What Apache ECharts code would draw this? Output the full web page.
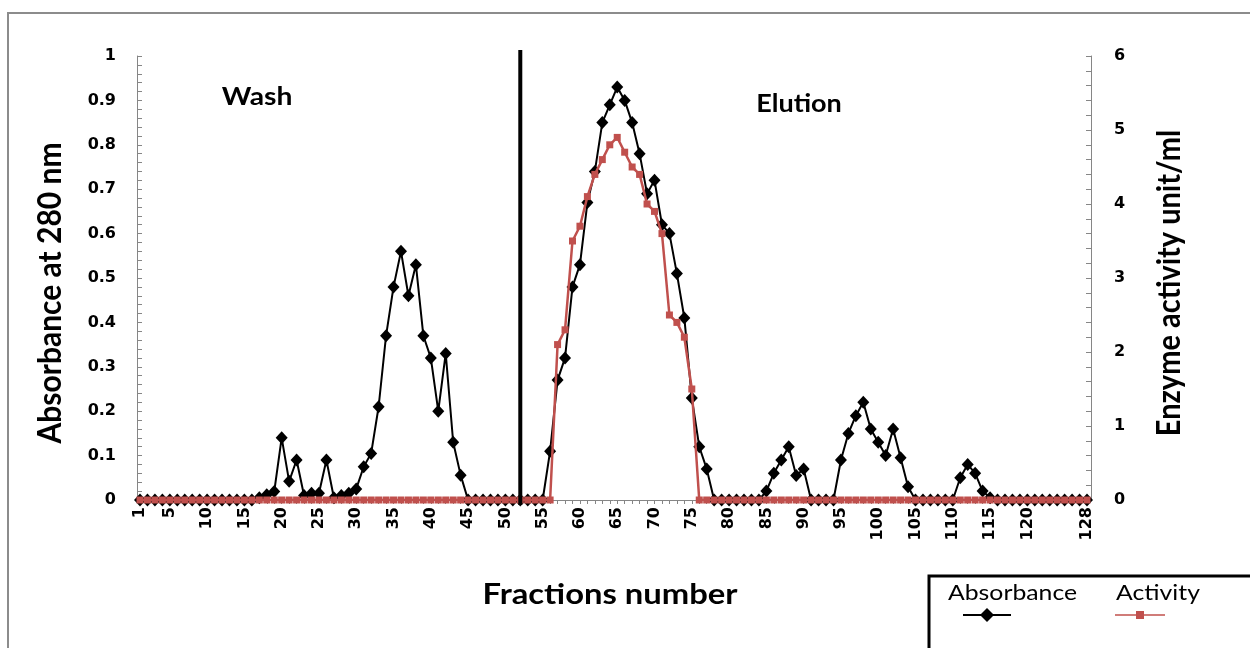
<!DOCTYPE html>
<html>
<head>
<meta charset="utf-8">
<script src="https://cdn.jsdelivr.net/npm/echarts@6/dist/echarts.min.js"></script>
<style>
html,body{margin:0;padding:0;background:#fff;}
#chart{width:1250px;height:648px;}
</style>
</head>
<body>
<div id="chart"></div>
<script>
// Fraction numbers (categories)
const fractions = [];
for (let i = 1; i <= 128; i++) fractions.push(String(i));

// X tick labels shown
const tickLabels = ['1','5','10','15','20','25','30','35','40','45','50','55','60','65','70','75','80','85','90','95','100','105','110','115','120','128'];

// Absorbance at 280 nm (left axis), fractions 1..128
const absorbance = [
  0,0,0,0,0,0,0,0,0,0,
  0,0,0,0,0,0,0.005,0.012,0.019,0.14,
  0.042,0.09,0.01,0.015,0.015,0.09,0.005,0.01,0.015,0.025,
  0.075,0.105,0.21,0.37,0.48,0.56,0.46,0.53,0.37,0.32,
  0.20,0.33,0.13,0.056,0,0,0,0,0,0,
  0,0,0,0,0,0.11,0.27,0.32,0.48,0.53,
  0.67,0.74,0.85,0.89,0.93,0.90,0.85,0.78,0.69,0.72,
  0.62,0.60,0.51,0.41,0.23,0.12,0.07,0,0,0,
  0,0,0,0,0.02,0.06,0.09,0.12,0.055,0.07,
  0,0,0,0,0.09,0.15,0.19,0.22,0.16,0.13,
  0.10,0.16,0.095,0.03,0,0,0,0,0,0,
  0.05,0.08,0.06,0.02,0.005,0,0,0,0,0,
  0,0,0,0,0,0,0,0
];

// Enzyme activity unit/ml (right axis), fractions 1..128
const activity = [
  0,0,0,0,0,0,0,0,0,0,
  0,0,0,0,0,0,0,0,0,0,
  0,0,0,0,0,0,0,0,0,0,
  0,0,0,0,0,0,0,0,0,0,
  0,0,0,0,0,0,0,0,0,0,
  0,0,0,0,0,0,2.1,2.3,3.5,3.7,
  4.1,4.4,4.6,4.8,4.9,4.7,4.5,4.4,4.0,3.9,
  3.6,2.5,2.4,2.2,1.5,0,0,0,0,0,
  0,0,0,0,0,0,0,0,0,0,
  0,0,0,0,0,0,0,0,0,0,
  0,0,0,0,0,0,0,0,0,0,
  0,0,0,0,0,0,0,0,0,0,
  0,0,0,0,0,0,0,0
];

const separatorFraction = '52';

const FONT = 'Lato';
const NUMFONT = 'DejaVu Sans';
const axisGray = '#868686';
const red = '#C0504D';

const chart = echarts.init(document.getElementById('chart'), null, {renderer: 'canvas'});

const option = {
  animation: false,
  backgroundColor: '#fff',
  grid: {left: 140, right: 163, top: 56, bottom: 148},
  xAxis: {
    type: 'category',
    data: fractions,
    boundaryGap: false,
    axisLine: {lineStyle: {color: axisGray, width: 1}},
    axisTick: {show: true, interval: 0, length: 4, lineStyle: {color: axisGray}},
    axisLabel: {
      interval: function (i, v) { return tickLabels.indexOf(v) >= 0; },
      rotate: 90,
      fontFamily: NUMFONT, fontWeight: 'bold', fontSize: 16, color: '#000',
      margin: 7
    },
    splitLine: {show: false}
  },
  yAxis: [
    {
      type: 'value', min: 0, max: 1, interval: 0.1, position: 'left', offset: 3,
      axisLine: {show: true, lineStyle: {color: axisGray, width: 1}},
      axisTick: {show: true, inside: true, length: 5, lineStyle: {color: axisGray}},
      minorTick: {show: true, splitNumber: 5, length: 5, lineStyle: {color: axisGray}},
      splitLine: {show: false},
      axisLabel: {
        formatter: function (v) { return String(+v.toFixed(1)); },
        fontFamily: NUMFONT, fontWeight: 'bold', fontSize: 16, color: '#000', margin: 21
      }
    },
    {
      type: 'value', min: 0, max: 6, interval: 1, position: 'right', offset: 4,
      axisLine: {show: true, lineStyle: {color: axisGray, width: 1}},
      axisTick: {show: true, inside: true, length: 5, lineStyle: {color: axisGray}},
      minorTick: {show: true, splitNumber: 5, length: 5, lineStyle: {color: axisGray}},
      splitLine: {show: false},
      axisLabel: {
        fontFamily: NUMFONT, fontWeight: 'bold', fontSize: 16, color: '#000', margin: 23
      }
    }
  ],
  series: [
    {
      name: 'Absorbance', type: 'line', data: absorbance, yAxisIndex: 0,
      symbol: 'diamond', symbolSize: [12, 13], showAllSymbol: true,
      itemStyle: {color: '#000'},
      lineStyle: {color: '#000', width: 2},
      z: 2
    },
    {
      name: 'Activity', type: 'line', data: activity, yAxisIndex: 1,
      symbol: 'rect', symbolSize: 7, showAllSymbol: true,
      itemStyle: {color: red},
      lineStyle: {color: red, width: 2.5},
      z: 3
    }
  ],
  graphic: [
    {type: 'rect', z: -10, shape: {x: 8, y: 13, width: 1400, height: 700},
     style: {fill: 'none', stroke: '#8c8c8c', lineWidth: 2}},
    {type: 'text', x: 50, y: 293, rotation: Math.PI / 2, scaleY: 1.1,
     style: {text: 'Absorbance at 280 nm', font: 'bold 30px ' + FONT, fill: '#000', textAlign: 'center', textVerticalAlign: 'middle'}},
    {type: 'text', x: 1170, y: 283, rotation: Math.PI / 2, scaleY: 1.1,
     style: {text: 'Enzyme activity unit/ml', font: 'bold 29px ' + FONT, fill: '#000', textAlign: 'center', textVerticalAlign: 'middle'}},
    {type: 'text', x: 610, y: 595, scaleX: 1.13,
     style: {text: 'Fractions number', font: 'bold 29px ' + FONT, fill: '#000', textAlign: 'center', textVerticalAlign: 'middle'}},
    {type: 'text', x: 257, y: 97, scaleX: 1.13,
     style: {text: 'Wash', font: 'bold 25px ' + FONT, fill: '#000', textAlign: 'center', textVerticalAlign: 'middle'}},
    {type: 'text', x: 799, y: 104, scaleX: 1.08,
     style: {text: 'Elution', font: 'bold 25px ' + FONT, fill: '#000', textAlign: 'center', textVerticalAlign: 'middle'}},
    {type: 'rect', shape: {x: 929, y: 576, width: 400, height: 200},
     style: {fill: '#fff', stroke: '#000', lineWidth: 3}},
    {type: 'text', x: 948, y: 593, scaleX: 1.18,
     style: {text: 'Absorbance', font: '21px ' + FONT, fill: '#000', textAlign: 'left', textVerticalAlign: 'middle'}},
    {type: 'text', x: 1116, y: 593, scaleX: 1.18,
     style: {text: 'Activity', font: '21px ' + FONT, fill: '#000', textAlign: 'left', textVerticalAlign: 'middle'}},
    {type: 'line', shape: {x1: 963, y1: 615, x2: 1011, y2: 615}, style: {stroke: '#000', lineWidth: 2}},
    {type: 'polygon', shape: {points: [[987, 608], [994, 615], [987, 622], [980, 615]]}, style: {fill: '#000'}},
    {type: 'line', shape: {x1: 1115, y1: 615, x2: 1165, y2: 615}, style: {stroke: red, lineWidth: 1.5}},
    {type: 'rect', shape: {x: 1136, y: 611, width: 8, height: 8}, style: {fill: red}}
  ]
};
chart.setOption(option);

// Wash / Elution separator, placed through the category axis scale
const sepX = chart.convertToPixel({xAxisIndex: 0}, separatorFraction);
chart.setOption({
  graphic: option.graphic.concat([
    {type: 'line', z: 50, shape: {x1: sepX, y1: 50, x2: sepX, y2: 505},
     style: {stroke: '#000', lineWidth: 4}}
  ])
});
</script>
</body>
</html>
